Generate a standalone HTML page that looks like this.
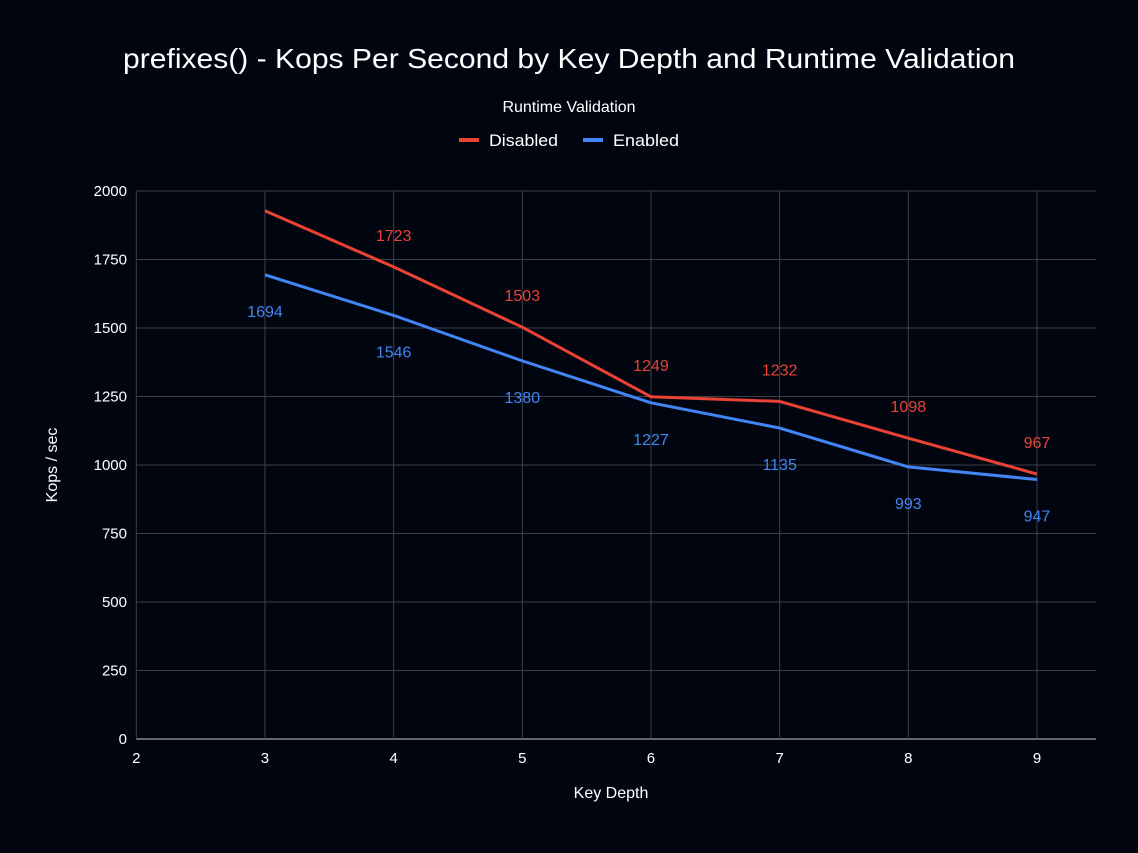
<!DOCTYPE html>
<html><head><meta charset="utf-8"><style>
body{margin:0;background:#010510;}
svg{display:block;font-family:"Liberation Sans",Arial,sans-serif;}
</style></head><body>
<svg id="chart" width="1138" height="853">
<rect width="1138" height="853" fill="#010510"/>
<text x="569" y="68" fill="#fff" font-size="28" text-anchor="middle" textLength="892" lengthAdjust="spacingAndGlyphs">prefixes() - Kops Per Second by Key Depth and Runtime Validation</text>
<text x="569" y="112" fill="#fff" font-size="16" text-anchor="middle">Runtime Validation</text>
<g><rect x="459" y="138" width="20" height="4" fill="#ea4335"/><text x="489" y="146" fill="#fff" font-size="16.5" textLength="69" lengthAdjust="spacingAndGlyphs">Disabled</text></g>
<g><rect x="583" y="138" width="20" height="4" fill="#4285f4"/><text x="613" y="146" fill="#fff" font-size="16.5" textLength="66" lengthAdjust="spacingAndGlyphs">Enabled</text></g>
<text x="611" y="798" fill="#fff" font-size="16" text-anchor="middle">Key Depth</text>
<text transform="translate(57,465) rotate(-90)" fill="#fff" font-size="16" text-anchor="middle">Kops / sec</text>
<g id="grid"></g><g id="series"></g><g id="labels"></g>
</svg>
<script>
const categories=[3,4,5,6,7,8,9];
const disabledValues=[1928,1723,1503,1249,1232,1098,967];
const enabledValues=[1694,1546,1380,1227,1135,993,947];
const disabledLabels=[null,"1723","1503","1249","1232","1098","967"];
const enabledLabels=["1694","1546","1380","1227","1135","993","947"];
const xTicks=[2,3,4,5,6,7,8,9];
const yTicks=[0,250,500,750,1000,1250,1500,1750,2000];
const NS="http://www.w3.org/2000/svg";
const X=v=>136.3+(v-2)*128.67, Y=v=>739-v*0.274;
function mk(t,a,p){const e=document.createElementNS(NS,t);for(const k in a)e.setAttribute(k,a[k]);p.appendChild(e);return e;}
const g=document.getElementById('grid'),s=document.getElementById('series'),L=document.getElementById('labels');
yTicks.forEach(v=>{const l=mk('line',{x1:136,x2:1096,y1:Y(v),y2:Y(v),stroke:v===0?'#c8c8c8':'#3c404a','stroke-width':1},g);

const t=mk('text',{x:127,y:Y(v)+5,fill:'#fff','font-size':15,'text-anchor':'end'},g);t.textContent=v;
});
xTicks.forEach(v=>{const l=mk('line',{x1:X(v),x2:X(v),y1:191,y2:739,stroke:'#3c404a','stroke-width':1},g);

const t=mk('text',{x:X(v),y:763,fill:'#fff','font-size':15,'text-anchor':'middle'},g);t.textContent=v;
});
function line(vals,col,name){const p=mk('polyline',{points:vals.map((v,i)=>X(categories[i])+','+Y(v)).join(' '),fill:'none',stroke:col,'stroke-width':3,'stroke-linejoin':'round'},s);
}
line(disabledValues,'#ea4335','line-disabled');line(enabledValues,'#4285f4','line-enabled');
function labels(vals,labs,col,dy,name){vals.forEach((v,i)=>{if(!labs[i])return;const t=mk('text',{x:X(categories[i]),y:Y(v)+dy,fill:col,'font-size':16,'text-anchor':'middle'},L);t.textContent=labs[i];
});}
labels(disabledValues,disabledLabels,'#ea4335',-26,'data-label-disabled');
labels(enabledValues,enabledLabels,'#4285f4',42,'data-label-enabled');
</script>
</body></html>
